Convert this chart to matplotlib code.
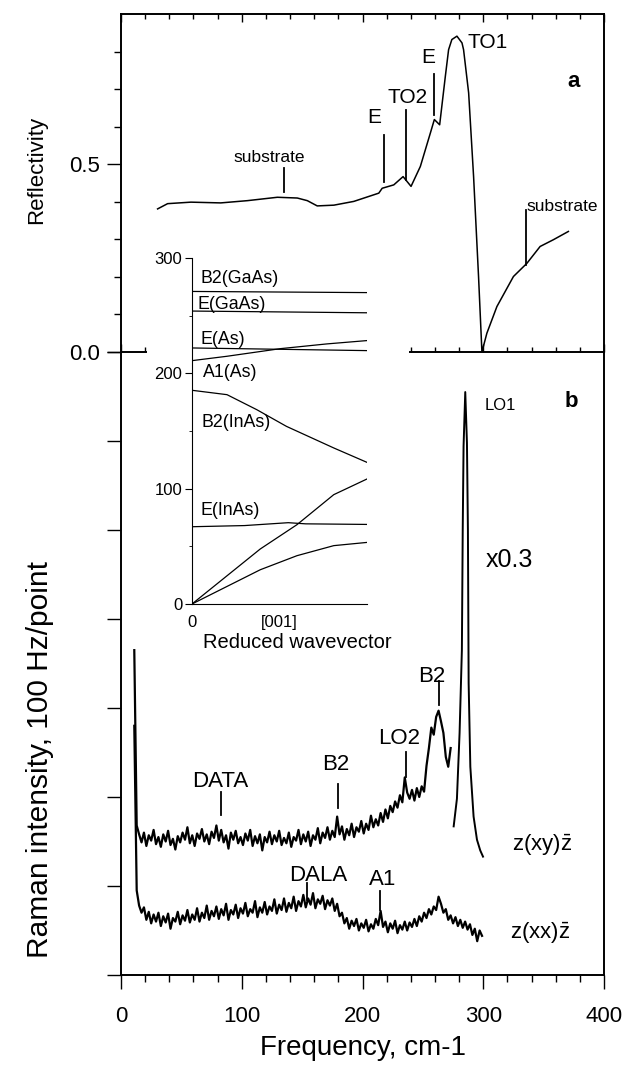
import numpy as np
import matplotlib
matplotlib.use('Agg')
import matplotlib.pyplot as plt
from matplotlib.patches import Rectangle

plt.rcParams['font.family'] = ['Liberation Sans', 'DejaVu Sans']
plt.rcParams['mathtext.fontset'] = 'custom'
plt.rcParams['mathtext.rm'] = 'Liberation Sans'

# ---- panel a: reflectivity ----
refl_freq = [30.3, 38.6, 57.9, 82.6, 104.7, 129.5, 146.0, 154.3, 162.5, 176.3,
             192.8, 213.5, 216.3, 225.9, 233.6, 240.2, 247.9, 256.2, 259.5, 263.9,
             268.6, 271.3, 274.0, 278.2, 282.4, 283.7, 287.9, 292.0, 296.1, 298.9,
             303.0, 311.3, 325.0, 336.1, 347.1, 358.1, 370.5]
refl = [0.381, 0.395, 0.399, 0.397, 0.403, 0.412, 0.410, 0.403, 0.389, 0.391,
        0.401, 0.423, 0.436, 0.445, 0.467, 0.441, 0.494, 0.583, 0.619, 0.605,
        0.734, 0.805, 0.832, 0.841, 0.823, 0.805, 0.690, 0.467, 0.201, 0.0,
        0.050, 0.121, 0.201, 0.236, 0.281, 0.299, 0.321]

# ---- panel b: Raman spectra (arb. units, 0..7) ----
xy_start, xy_step = 11, 2
raman_xy = [3.65, 1.68, 1.58, 1.49, 1.60, 1.45, 1.57, 1.51, 1.63, 1.47,
            1.55, 1.44, 1.58, 1.50, 1.62, 1.46, 1.53, 1.41, 1.56, 1.49,
            1.60, 1.52, 1.66, 1.48, 1.57, 1.45, 1.59, 1.53, 1.64, 1.50,
            1.58, 1.47, 1.61, 1.54, 1.68, 1.51, 1.63, 1.49, 1.57, 1.42,
            1.60, 1.52, 1.62, 1.48, 1.55, 1.46, 1.59, 1.51, 1.63, 1.45,
            1.56, 1.48, 1.58, 1.40, 1.55, 1.49, 1.61, 1.47, 1.57, 1.50,
            1.62, 1.46, 1.54, 1.48, 1.60, 1.44, 1.55, 1.51, 1.63, 1.47,
            1.58, 1.50, 1.61, 1.45, 1.57, 1.52, 1.65, 1.48, 1.60, 1.54,
            1.66, 1.52, 1.62, 1.55, 1.78, 1.58, 1.67, 1.52, 1.64, 1.57,
            1.70, 1.55, 1.66, 1.61, 1.73, 1.59, 1.70, 1.63, 1.79, 1.66,
            1.75, 1.68, 1.82, 1.72, 1.86, 1.76, 1.90, 1.83, 1.95, 1.88,
            2.02, 1.94, 2.22, 2.05, 1.98, 2.08, 1.96, 2.10, 2.00, 2.12,
            2.06, 2.35, 2.55, 2.78, 2.70, 2.90, 2.97, 2.85, 2.72, 2.45,
            2.34, 2.55]
# LO1 peak, scaled x0.3
lo1_freq = [275.5, 278.2, 280.4, 282.3, 283.0, 283.7, 285.1, 286.5, 287.3, 287.9,
            289.3, 292.0, 294.8, 297.5, 299.8]
lo1_int = [1.67, 1.98, 2.72, 3.65, 5.00, 5.94, 6.55, 5.98, 5.00, 3.28,
           2.34, 1.78, 1.52, 1.40, 1.33]

xx_start, xx_step = 11, 2
raman_xx = [2.80, 0.95, 0.78, 0.70, 0.76, 0.62, 0.71, 0.58, 0.68, 0.60,
            0.70, 0.55, 0.66, 0.59, 0.69, 0.52, 0.64, 0.60, 0.71, 0.57,
            0.67, 0.61, 0.73, 0.59, 0.68, 0.62, 0.75, 0.60, 0.70, 0.64,
            0.78, 0.62, 0.72, 0.66, 0.77, 0.63, 0.74, 0.67, 0.80, 0.62,
            0.73, 0.68, 0.79, 0.64, 0.75, 0.69, 0.81, 0.66, 0.74, 0.70,
            0.83, 0.65, 0.76, 0.70, 0.82, 0.68, 0.77, 0.72, 0.85, 0.69,
            0.79, 0.73, 0.86, 0.71, 0.81, 0.75, 0.88, 0.72, 0.83, 0.77,
            0.90, 0.76, 0.86, 0.79, 0.92, 0.75, 0.85, 0.80, 0.89, 0.74,
            0.84, 0.78, 0.86, 0.72, 0.80, 0.66, 0.70, 0.58, 0.64, 0.52,
            0.61, 0.55, 0.63, 0.50, 0.58, 0.53, 0.62, 0.49, 0.57, 0.52,
            0.63, 0.56, 0.72, 0.54, 0.60, 0.48, 0.58, 0.52, 0.61, 0.47,
            0.56, 0.51, 0.60, 0.50, 0.59, 0.54, 0.63, 0.55, 0.66, 0.60,
            0.70, 0.64, 0.74, 0.68, 0.77, 0.73, 0.88, 0.80, 0.70, 0.74,
            0.62, 0.67, 0.58, 0.65, 0.55, 0.62, 0.53, 0.60, 0.51, 0.57,
            0.45, 0.52, 0.38, 0.50, 0.44]

# ---- inset: phonon dispersion ----
q_flat = [0.0, 1.0]
b2_gaas = [271, 270]
e_gaas = [254, 252.5]
e_as = [222, 219.7]
q_a1 = [0.0, 0.2, 0.505, 0.77, 1.0]
a1_as = [211, 214.8, 221.4, 225.5, 228.4]
q_b2 = [0.0, 0.2, 0.37, 0.54, 0.81, 1.0]
b2_inas = [185.3, 181.5, 168.5, 154, 135.3, 122.8]
q_e = [0.0, 0.3, 0.55, 0.65, 1.0]
e_inas = [67, 68, 70.5, 69.5, 69]
q_ac = [0.0, 0.39, 0.6, 0.81, 1.0]
la_branch = [0, 47.7, 68.8, 94.8, 108.4]
ta_branch = [0, 29.7, 41.9, 50.6, 53.4]

# annotations: (label, text x, text y, line x, line y0, line y1, size)
refl_marks = [('substrate', 123, 0.517, 134.7, 0.427, 0.490, 12.5),
              ('E', 210, 0.624, 217.6, 0.453, 0.579, 15),
              ('TO2', 237, 0.677, 236, 0.459, 0.645, 15),
              ('E', 254.5, 0.784, 259, 0.632, 0.739, 15),
              ('substrate', 365, 0.387, 335.3, 0.232, 0.379, 12.5)]
raman_marks = [('DATA', 82.6, 2.17, 83.2, 1.80, 2.06),
               ('B2', 177.7, 2.36, 179.6, 1.88, 2.15),
               ('LO2', 230.6, 2.66, 235.8, 2.23, 2.51),
               ('B2', 257.6, 3.35, 263.0, 3.03, 3.30),
               ('DALA', 163, 1.12, 154.3, 0.84, 1.03),
               ('A1', 216.3, 1.07, 214.9, 0.73, 0.94)]
inset_labels = [('B2(GaAs)', 0.047, 281.8), ('E(GaAs)', 0.029, 260),
                ('E(As)', 0.046, 229), ('A1(As)', 0.063, 200.9),
                ('B2(InAs)', 0.057, 157.5), ('E(InAs)', 0.051, 81.2)]

W, H = 641, 1068


def px_rect(x0, y0, x1, y1):
    return [x0 / W, 1 - y1 / H, (x1 - x0) / W, (y1 - y0) / H]


fig = plt.figure(figsize=(W / 100, H / 100), dpi=100)
ax_a = fig.add_axes(px_rect(121, 14, 604, 352), facecolor='none')
ax_b = fig.add_axes(px_rect(121, 352, 604, 975), facecolor='none')
ax_in = fig.add_axes(px_rect(192, 258, 367, 604), facecolor='white', zorder=3)

# white box hiding panel a's bottom axis behind the inset
fig.patches.append(Rectangle((147 / W, 1 - 615 / H), (409 - 147) / W, (615 - 245) / H,
                             transform=fig.transFigure, facecolor='white',
                             edgecolor='none', zorder=2))

for ax in (ax_a, ax_b):
    for sp_ in ax.spines.values():
        sp_.set_linewidth(1.4)

# panel a
ax_a.plot(refl_freq, refl, color='k', lw=1.1)
ax_a.set_xlim(0, 400)
ax_a.set_ylim(0, 0.9)
ax_a.set_xticks(np.arange(0, 401, 100))
ax_a.set_xticks(np.arange(0, 401, 20), minor=True)
ax_a.tick_params(axis='x', which='both', direction='in', top=True, bottom=True,
                 labelbottom=False, width=1.0)
ax_a.tick_params(axis='x', which='major', length=6)
ax_a.tick_params(axis='x', which='minor', length=3.5)
ax_a.set_yticks([0, 0.5])
ax_a.set_yticklabels(['0.0', '0.5'])
ax_a.set_yticks(np.arange(0.1, 0.9, 0.1), minor=True)
ax_a.tick_params(axis='y', which='both', direction='out', right=False, width=1.0,
                 labelsize=16, pad=5)
ax_a.tick_params(axis='y', which='major', length=10)
ax_a.tick_params(axis='y', which='minor', length=5)

for lab, tx, ty, lx, ly0, ly1, fs in refl_marks:
    ax_a.plot([lx, lx], [ly0, ly1], color='k', lw=1.3)
    ax_a.text(tx, ty, lab, ha='center', va='center', fontsize=fs)
ax_a.text(304, 0.824, 'TO1', ha='center', va='center', fontsize=15)
ax_a.text(375, 0.72, 'a', ha='center', va='center', fontsize=16, fontweight='bold')

# panel b
xy_freq = xy_start + xy_step * np.arange(len(raman_xy))
xx_freq = xx_start + xx_step * np.arange(len(raman_xx))
ax_b.plot(xy_freq, raman_xy, color='k', lw=1.6)
ax_b.plot(lo1_freq, lo1_int, color='k', lw=1.4)
ax_b.plot(xx_freq, raman_xx, color='k', lw=1.6)
ax_b.set_xlim(0, 400)
ax_b.set_ylim(0, 7)
ax_b.spines['top'].set_visible(False)
ax_b.set_xticks(np.arange(0, 401, 100))
ax_b.set_xticks(np.arange(0, 401, 20), minor=True)
ax_b.tick_params(axis='x', which='both', direction='out', top=False, width=1.0,
                 labelsize=16, pad=12)
ax_b.tick_params(axis='x', which='major', length=10)
ax_b.tick_params(axis='x', which='minor', length=5)
ax_b.set_yticks(np.arange(0, 8, 1))
ax_b.tick_params(axis='y', which='major', direction='out', length=10, width=1.0,
                 labelleft=False, right=False)
ax_b.set_xlabel('Frequency, cm-1', fontsize=20, labelpad=6)

for lab, tx, ty, lx, ly0, ly1 in raman_marks:
    ax_b.plot([lx, lx], [ly0, ly1], color='k', lw=1.3)
    ax_b.text(tx, ty, lab, ha='center', va='center', fontsize=16)
ax_b.text(314, 6.40, 'LO1', ha='center', va='center', fontsize=12)
ax_b.text(373, 6.44, 'b', ha='center', va='center', fontsize=16, fontweight='bold')
ax_b.text(322, 4.66, 'x0.3', ha='center', va='center', fontsize=18)
ax_b.text(349, 1.46, r'z(xy)$\bar{\mathrm{z}}$', ha='center', va='center', fontsize=16)
ax_b.text(347, 0.47, r'z(xx)$\bar{\mathrm{z}}$', ha='center', va='center', fontsize=16)

# inset
for q, w in [(q_flat, b2_gaas), (q_flat, e_gaas), (q_flat, e_as), (q_a1, a1_as),
             (q_b2, b2_inas), (q_e, e_inas), (q_ac, la_branch), (q_ac, ta_branch)]:
    ax_in.plot(q, w, color='k', lw=0.9)
ax_in.set_xlim(0, 1)
ax_in.set_ylim(0, 300)
ax_in.spines['top'].set_visible(False)
ax_in.spines['right'].set_visible(False)
ax_in.set_yticks([0, 100, 200, 300])
ax_in.set_yticks(np.arange(0, 301, 50), minor=True)
ax_in.tick_params(axis='y', which='major', direction='out', length=5, labelsize=12, pad=2)
ax_in.tick_params(axis='y', which='minor', direction='out', length=2.5)
ax_in.set_xticks([0, 0.5])
ax_in.set_xticklabels(['0', '[001]'])
ax_in.tick_params(axis='x', length=0, labelsize=12, pad=8)
ax_in.text(0.6, -0.112, 'Reduced wavevector', transform=ax_in.transAxes,
           ha='center', va='center', fontsize=14.5)
for lab, q, w in inset_labels:
    ax_in.text(q, w, lab, ha='left', va='center', fontsize=12.8)

fig.text(37 / W, 1 - 170 / H, 'Reflectivity', rotation=90, ha='center', va='center',
         fontsize=16)
fig.text(40 / W, 1 - 759 / H, 'Raman intensity, 100 Hz/point', rotation=90,
         ha='center', va='center', fontsize=21.5)

fig.savefig('out.png', dpi=100)
